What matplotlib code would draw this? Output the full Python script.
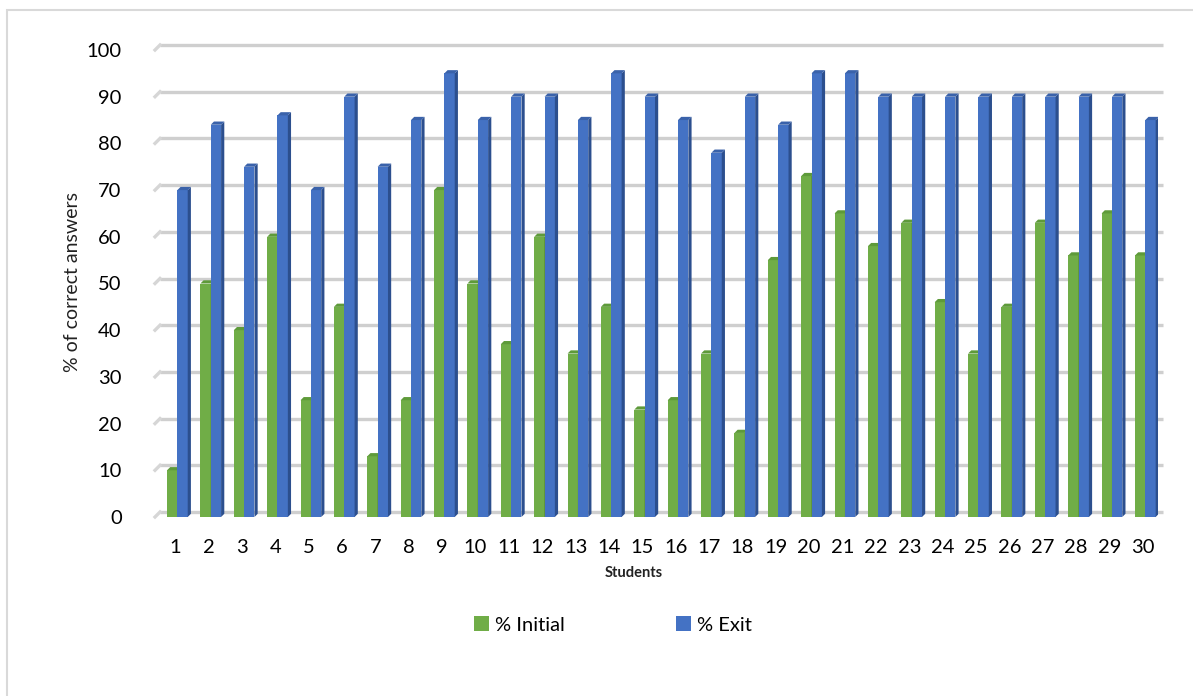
import matplotlib
matplotlib.use("Agg")
import matplotlib.pyplot as plt
from matplotlib.patches import Polygon, Rectangle, Patch
import numpy as np

students = list(range(1, 31))
initial = [10, 50, 40, 60, 25, 45, 13, 25, 70, 50, 37, 60, 35, 45, 23, 25, 35, 18, 55, 73,
           65, 58, 63, 46, 35, 45, 63, 56, 65, 56]
exit_ = [70, 84, 75, 86, 70, 90, 75, 85, 95, 85, 90, 90, 85, 95, 90, 85, 78, 90, 84, 95,
         95, 90, 90, 90, 90, 90, 90, 90, 90, 85]
yticks = list(range(0, 101, 10))
series_names = ["% Initial", "% Exit"]

GREEN, GREEN_D, GREEN_T = "#70AD47", "#4E7F30", "#5E9A3A"
BLUE, BLUE_D, BLUE_T = "#4472C4", "#2C4F8E", "#3A62AA"

plt.rcParams['font.family'] = ['Lato', 'DejaVu Sans']

W, H = 1193, 696
fig = plt.figure(figsize=(W / 100, H / 100), dpi=100)

# outer frame
fig.patches.append(Rectangle((7 / W, -0.1), 1.2, 1 - 10 / H + 0.1, transform=fig.transFigure,
                             fill=False, edgecolor="#D9D9D9", lw=1.5))

left_px, right_px, bot_px, top_px = 155, 1158, 517, 50
ax = fig.add_axes([left_px / W, 1 - bot_px / H, (right_px - left_px) / W, (bot_px - top_px) / H])
ax.set_xlim(0.4, 30.45)
ax.set_ylim(0, 100)
for s in ax.spines.values():
    s.set_visible(False)
ax.patch.set_visible(False)

ppx = (right_px - left_px) / (30.45 - 0.4)   # px per x unit
ppy = (bot_px - top_px) / 100.0              # px per y unit

wall = 5.0   # px depth of the gridline wall
bd = 3.2     # px depth of bars
wx, wy = wall / ppx, wall / ppy
bx, by = bd / ppx, bd / ppy

# gridlines on back wall with slanted left ends
x0, x1 = 0.4, 30.6
for v in yticks:
    ax.plot([x0 + wx, x1], [v + wy, v + wy], color="#CFCFCF", lw=2.4, zorder=0.5,
            solid_capstyle="butt", clip_on=False)
    ax.plot([x0, x0 + wx], [v, v + wy], color="#D6D6D6", lw=2.4, zorder=0.5, clip_on=False)

x = np.array(students, dtype=float)
bw = 0.31
xc = x + 0.07

def bars3d(xs, vals, face, side, top, z):
    rects = ax.bar(xs, vals, width=bw, color=face, zorder=z, linewidth=0)
    for r in rects:
        xl, w_, h_ = r.get_x(), r.get_width(), r.get_height()
        xr = xl + w_
        ax.add_patch(Polygon([(xr, 0), (xr + bx, by), (xr + bx, h_ + by), (xr, h_)],
                             closed=True, facecolor=side, edgecolor="none", zorder=z))
        ax.add_patch(Polygon([(xl, h_), (xr, h_), (xr + bx, h_ + by), (xl + bx, h_ + by)],
                             closed=True, facecolor=top, edgecolor="none", zorder=z))
    return rects

bars3d(xc - bw / 2, initial, GREEN, GREEN_D, GREEN_T, 2)
bars3d(xc + bw / 2, exit_, BLUE, BLUE_D, BLUE_T, 3)

ax.set_xticks(students)
ax.set_xticklabels([str(s) for s in students], fontsize=14.5)
ax.set_yticks(yticks)
ax.set_yticklabels([str(v) for v in yticks], fontsize=14.5)
ax.tick_params(axis="both", length=0)
ax.tick_params(axis="y", pad=24)
ax.tick_params(axis="x", pad=16)

fig.text(72 / W, 1 - 282 / H, "% of correct answers", rotation=90, ha="center", va="center",
         fontsize=14, color="#222222")
fig.text(634 / W, 1 - 573 / H, "Students", ha="center", va="center", fontsize=10.5,
         fontweight="bold", color="#222222")

handles = [Patch(facecolor=GREEN, edgecolor="none"), Patch(facecolor=BLUE, edgecolor="none")]
fig.legend(handles, series_names, loc="center", bbox_to_anchor=(613 / W, 1 - 625 / H), ncol=2,
           frameon=False, fontsize=14.5, handlelength=0.75, handleheight=0.75,
           handletextpad=0.3, columnspacing=5.5)

fig.savefig("out.png", dpi=100)
